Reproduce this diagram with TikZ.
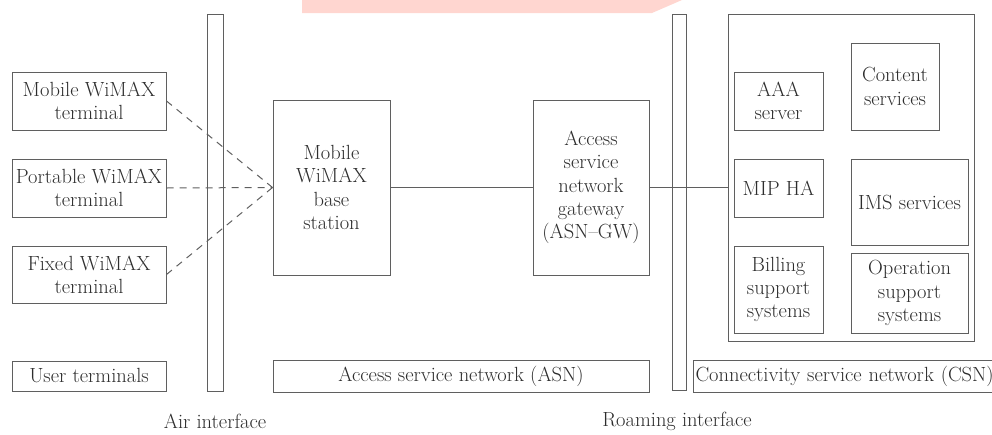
\documentclass[tikz,border=0pt]{standalone}
\usepackage{fontspec}
\definecolor{lc}{RGB}{95,95,95}
\definecolor{tc}{RGB}{45,45,45}
\definecolor{pinkc}{RGB}{255,214,208}
\newcommand\dfs{\fontsize{20.5}{23.3}\selectfont}
\tikzset{
  box/.style={draw=lc, line width=1pt, align=center, inner sep=0pt, text=tc, font=\dfs},
  bar/.style={draw=lc, line width=1pt, inner sep=0pt},
  lbl/.style={text=tc, font=\dfs, inner sep=0pt},
  conn/.style={draw=lc, line width=1pt},
  dconn/.style={draw=lc, line width=1pt, dash pattern=on 7pt off 6pt}
}
\begin{document}
\begin{tikzpicture}[x=1pt,y=-1pt]
\useasboundingbox (0,0) rectangle (992,434);
\clip (0,0) rectangle (992,434);
\fill[pinkc] (302,0) -- (682,0) -- (652,13) -- (302,13) -- cycle;
% user terminals
\node[box, minimum width=154, minimum height=58] (mob) at (89,101) {Mobile WiMAX\\terminal};
\node[box, minimum width=154, minimum height=58] (port) at (89,188) {Portable WiMAX\\terminal};
\node[box, minimum width=154, minimum height=57] (fix) at (89,274.5) {Fixed WiMAX\\terminal};
\node[box, minimum width=154, minimum height=30] (ut) at (89,376) {User terminals};
% air interface
\node[bar, minimum width=16, minimum height=377] (air) at (215,202.5) {};
\node[lbl] (airlbl) at (215,421) {Air interface};
% ASN
\node[box, minimum width=117, minimum height=175] (bs) at (331.5,187.5) {Mobile\\WiMAX\\base\\station};
\node[box, minimum width=116, minimum height=175] (gw) at (591,187.5) {Access\\service\\network\\gateway\\(ASN--GW)};
\node[box, minimum width=376, minimum height=32] (asn) at (461,376) {Access service network (ASN)};
% roaming
\node[bar, minimum width=14, minimum height=376] (roam) at (679,202) {};
\node[lbl] (roamlbl) at (677,421) {Roaming interface};
% CSN
\node[box, minimum width=246, minimum height=327] (csn) at (851,177.5) {};
\node[box, minimum width=89, minimum height=58] (aaa) at (778.5,101) {AAA\\server};
\node[box, minimum width=88, minimum height=87] (cont) at (895,86.5) {Content\\services};
\node[box, minimum width=89, minimum height=58] (mip) at (778.5,188) {MIP HA};
\node[box, minimum width=117, minimum height=86] (ims) at (909.5,202) {IMS services};
\node[box, minimum width=89, minimum height=87] (bill) at (778.5,289.5) {Billing\\support\\systems};
\node[box, minimum width=117, minimum height=80] (oper) at (909.5,293) {Operation\\support\\systems};
\node[box, minimum height=32, text width=303, inner xsep=2pt, align=left, anchor=west] (csnbar) at (693,376) {Connectivity service network (CSN)};
% connectors
\draw[dconn] (mob.east) -- (bs.west);
\draw[dconn] (port.east) -- (bs.west);
\draw[dconn] (fix.east) -- (bs.west);
\draw[conn] (bs.east) -- (gw.west);
\draw[conn] (gw.east) -- (gw.east -| csn.west);
\end{tikzpicture}
\end{document}
